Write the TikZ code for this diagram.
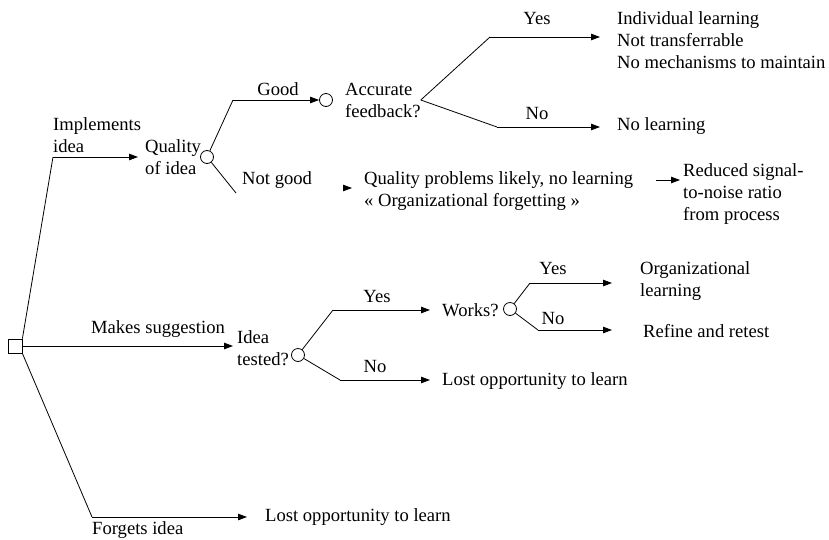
\documentclass[tikz,border=0pt]{standalone}
\usepackage{fontspec}
\setmainfont{Liberation Serif}
\usetikzlibrary{arrows.meta,calc}
\begin{document}
\begin{tikzpicture}[x=1pt,y=-1pt,
  every node/.style={font=\fontsize{18.6}{22}\selectfont, inner sep=0pt},
  txt/.style={anchor=west, align=left},
  lbl/.style={anchor=center},
  chance/.style={circle, draw, minimum size=13pt, line width=0.8pt},
  decision/.style={rectangle, draw, minimum size=14pt, line width=0.8pt},
  edge/.style={line width=0.8pt},
  arr/.style={edge, -{Triangle[length=9pt,width=6.5pt]}}]
\useasboundingbox (0,0) rectangle (829,539);
% root
\node[decision] (root) at (15,346) {};
% top branch
\coordinate (i1) at (53,157);
\node[txt] (impl) at (53,135) {Implements\\idea};
\node[txt] (q1) at (145,157) {Quality\\of idea};
\node[chance] (c1) at (207,157) {};
\draw[edge] (root.north east) -- (i1);
\draw[arr, shorten >=7pt] (i1) -- (i1 -| q1.west);
\coordinate (g1) at (233,100);
\node[chance] (c2) at (326,100) {};
\draw[edge] (c1) -- (g1);
\draw[arr] (g1) -- (c2);
\node[lbl] (good) at (278,89) {Good};
\node[txt] (acc) at (345,100) {Accurate\\feedback?};
\coordinate (y1) at (490,37);
\coordinate (n1) at (497,127);
\node[txt] (out1) at (617,40) {Individual learning\\Not transferrable\\No mechanisms to maintain};
\node[txt] (out2) at (617,126) {No learning};
\draw[edge] (acc.east) -- (y1);
\draw[arr, shorten >=17pt] (y1) -- (y1 -| out1.west);
\node[lbl] (yes1) at (537,18) {Yes};
\draw[edge] (acc.east) -- (n1);
\draw[arr, shorten >=17pt] (n1) -- (n1 -| out2.west);
\node[lbl] (no1) at (537,113) {No};
% not good
\coordinate (ng) at (236,193);
\draw[edge] (c1) -- (ng);
\node[txt] (notgood) at (242,180) {Not good};
\coordinate (qa) at (343,188);
\node[txt] (qp) at (364,191) {Quality problems likely, no learning\\« Organizational forgetting »};
\draw[arr, shorten >=12pt] (qa) -- (qa -| qp.west);
\node[txt] (rs) at (683,194) {Reduced signal-\\to-noise ratio\\from process};
\coordinate (ra) at (656,180);
\draw[arr, shorten >=3pt] (ra) -- (ra -| rs.west);
% middle branch
\node[txt] (it) at (237,348) {Idea\\tested?};
\draw[arr, shorten >=4pt] (root.east) -- (root.east -| it.west);
\node[lbl] (ms) at (158,329) {Makes suggestion};
\node[chance] (c3) at (298,355) {};
\coordinate (y2) at (333,310);
\node[txt] (wk) at (442,310) {Works?};
\draw[edge] (c3) -- (y2);
\draw[arr, shorten >=12pt] (y2) -- (y2 -| wk.west);
\node[lbl] (yes2) at (377,296) {Yes};
\node[chance] (c4) at (510,309) {};
\coordinate (y3) at (530,283);
\node[txt] (org) at (640,281) {Organizational\\learning};
\draw[edge] (c4) -- (y3);
\draw[arr, shorten >=28pt] (y3) -- (y3 -| org.west);
\node[lbl] (yes3) at (553,268) {Yes};
\coordinate (n3) at (538,330);
\node[txt] (rr) at (643,331) {Refine and retest};
\draw[edge] (c4) -- (n3);
\draw[arr, shorten >=31pt] (n3) -- (n3 -| rr.west);
\node[lbl] (no3) at (553,318) {No};
\coordinate (n2) at (340,380);
\node[txt] (lo1) at (442,381) {Lost opportunity to learn};
\draw[edge] (c3) -- (n2);
\draw[arr, shorten >=12pt] (n2) -- (n2 -| lo1.west);
\node[lbl] (no2) at (375,366) {No};
% bottom branch
\coordinate (f1) at (92,517);
\node[txt] (lo2) at (265,517) {Lost opportunity to learn};
\draw[edge] (root.south east) -- (f1);
\draw[arr, shorten >=18pt] (f1) -- (f1 -| lo2.west);
\node[txt] (fi) at (92,530) {Forgets idea};
\end{tikzpicture}
\end{document}
